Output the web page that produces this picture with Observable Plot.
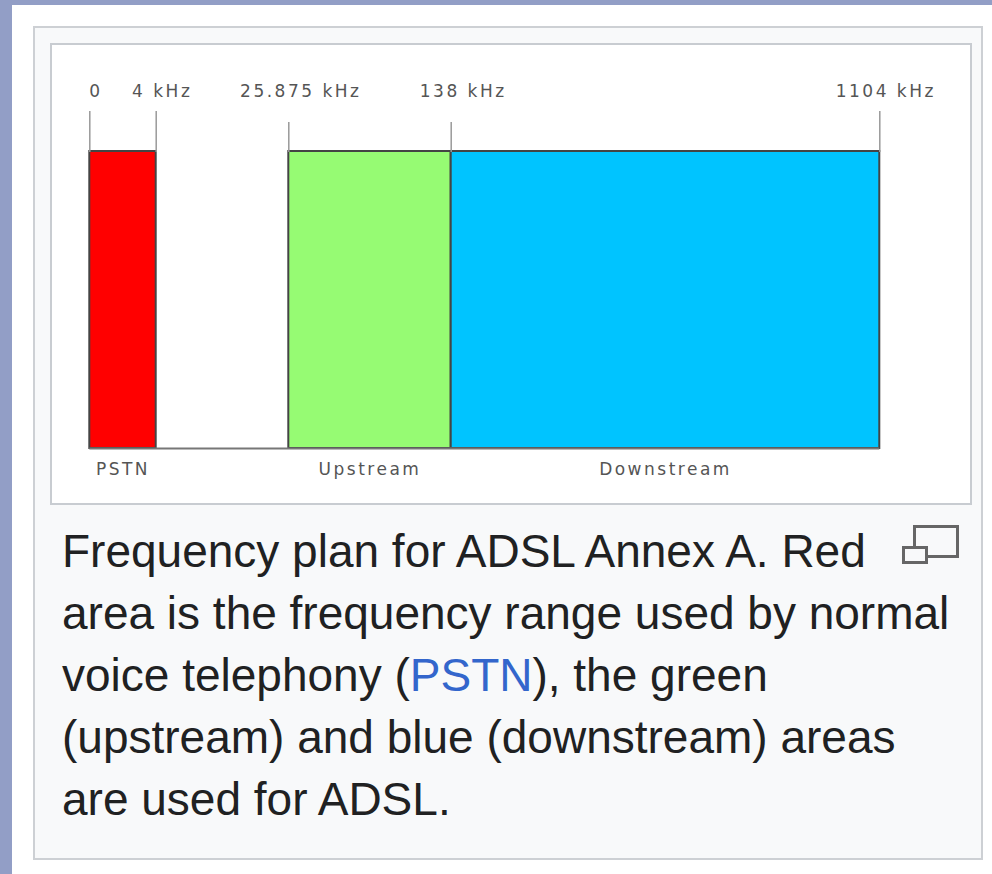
<!DOCTYPE html>
<html>
<head>
<meta charset="utf-8">
<script src="https://cdn.jsdelivr.net/npm/d3@7"></script>
<script src="https://cdn.jsdelivr.net/npm/@observablehq/plot@0.6"></script>
<style>
  html, body { margin: 0; padding: 0; background: #ffffff; }
  #page { position: relative; width: 992px; height: 874px; overflow: hidden; background: #ffffff; }
  #topstrip { position: absolute; left: 0; top: 0; width: 992px; height: 5px; background: #929ec6; }
  #leftstrip { position: absolute; left: 0; top: 0; width: 12px; height: 874px; background: #929ec6; }
  #outer { position: absolute; left: 33px; top: 26px; width: 946px; height: 830px;
           background: #f8f9fa; border: 2px solid #cdd0d4; }
  #inner { position: absolute; left: 50px; top: 43px; width: 918px; height: 458px;
           background: #ffffff; border: 2px solid #c8ccd1; }
  #chart { position: absolute; left: 52px; top: 45px; width: 918px; height: 458px; }
  #caption { position: absolute; left: 62px; top: 520px; width: 905px;
             font-family: "Liberation Sans", Arial, Helvetica, sans-serif;
             font-size: 46px; line-height: 62px; color: #202122; white-space: nowrap; }
  #caption a { color: #3366cc; text-decoration: none; }
  #magnify { position: absolute; left: 898px; top: 520px; }
</style>
</head>
<body>
<div id="page">
  <div id="topstrip"></div>
  <div id="leftstrip"></div>
  <div id="outer"></div>
  <div id="inner"></div>
  <div id="chart"></div>
  <svg id="magnify" width="66" height="48" viewBox="0 0 66 48">
    <rect x="16.5" y="6.5" width="43" height="30" fill="none" stroke="#666" stroke-width="3"/>
    <rect x="5.5" y="27.5" width="23" height="15" fill="#f8f9fa" stroke="#666" stroke-width="3"/>
  </svg>
  <div id="caption">Frequency plan for ADSL Annex A. Red<br>area is the frequency range used by normal<br>voice telephony (<a href="#">PSTN</a>), the green<br>(upstream) and blue (downstream) areas<br>are used for ADSL.</div>
</div>
<script>
// Frequency bands (kHz)
const bandNames = ["PSTN", "Upstream", "Downstream"];
const bandStart = [0, 25.875, 138];
const bandEnd = [4, 138, 1104];
const bandLevel = [1, 1, 1];

// Boundary ticks and their labels
const boundaries = [0, 4, 25.875, 138, 1104];
const tickLabels = ["0", "4 kHz", "25.875 kHz", "138 kHz", "1104 kHz"];

const bands = bandNames.map((name, i) => ({name, start: bandStart[i], end: bandEnd[i], level: bandLevel[i]}));
const labelOf = new Map(boundaries.map((b, i) => [b, tickLabels[i]]));
const shortTicks = bandStart.slice(1);               // ADSL band starts
const longTicks = boundaries.filter(b => !shortTicks.includes(b));

// The diagram is schematic (not to scale): a piecewise mapping of kHz onto the axis
const schematic = d3.scaleLinear().domain(boundaries).range([0, 66.4, 199, 361.4, 790]);

const labelFont = 17;
const longSize = 41, shortSize = 30;

const chart = Plot.plot({
  width: 918,
  height: 458,
  marginTop: 106,
  marginBottom: 55,
  marginLeft: 37.3,
  marginRight: 918 - 827.3,
  style: {fontFamily: "'DejaVu Sans', sans-serif", letterSpacing: "2.5px", background: "white"},
  x: {transform: schematic, domain: [0, 790], axis: null},
  y: {domain: [0, 1], axis: null},
  color: {domain: bandNames, range: ["#ff0000", "#96fb73", "#00c4ff"]},
  marks: [
    Plot.rect(bands, {x1: "start", x2: "end", y1: 0, y2: "level", fill: "name", stroke: "#444", strokeWidth: 2}),
    Plot.ruleY([0], {x1: d3.min(bandStart), x2: d3.max(bandEnd), stroke: "#777", strokeWidth: 2}),
    // tick lines
    Plot.axisX(longTicks, {anchor: "top", tickSize: longSize, fill: "none", stroke: "#999", strokeWidth: 1.5}),
    Plot.axisX(shortTicks, {anchor: "top", tickSize: shortSize, fill: "none", stroke: "#999", strokeWidth: 1.5}),
    // tick labels
    Plot.axisX(longTicks, {anchor: "top", tickSize: 0, stroke: "none", tickPadding: longSize + 14,
      tickFormat: d => labelOf.get(d), fontSize: labelFont, fill: "#555", dx: 6}),
    Plot.axisX(shortTicks, {anchor: "top", tickSize: 0, stroke: "none", tickPadding: longSize + 14,
      tickFormat: d => labelOf.get(d), fontSize: labelFont, fill: "#555", dx: 12}),
    Plot.text(bands, {x: d => (d.start + d.end) / 2, y: 0, text: "name", dy: 21,
      fontSize: labelFont, fill: "#555", textAnchor: "middle"})
  ]
});
document.getElementById("chart").appendChild(chart);
</script>
</body>
</html>
